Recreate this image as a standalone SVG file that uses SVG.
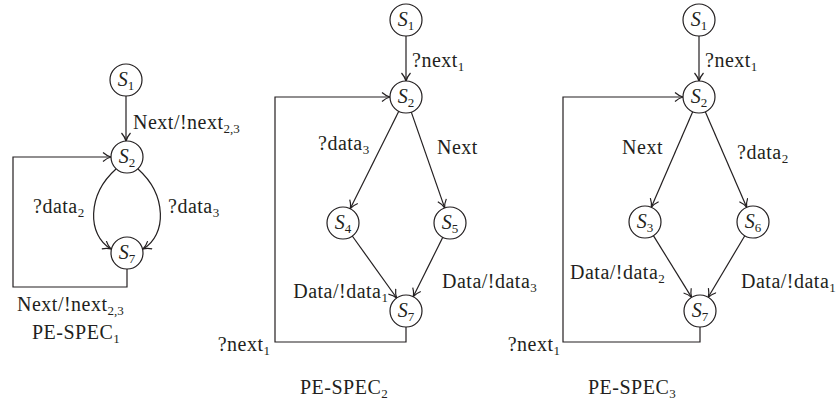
<svg xmlns="http://www.w3.org/2000/svg" width="836" height="408" viewBox="0 0 836 408">
<style>
text{font-family:"Liberation Serif","DejaVu Serif",serif;font-size:20px;letter-spacing:0.5px;fill:#231f20}
.n{font-style:italic;text-anchor:middle;letter-spacing:0}
.sub{font-size:13px;font-style:normal;letter-spacing:0}
circle{fill:#fff;stroke:#231f20;stroke-width:1.2}
.e{fill:none;stroke:#231f20;stroke-width:1.2;marker-end:url(#ah)}
.end{text-anchor:end}
</style>
<defs>
<marker id="ah" markerUnits="userSpaceOnUse" markerWidth="12" markerHeight="12" refX="9" refY="5" orient="auto">
<path d="M1,0.5 Q5,4 9,5 Q5,6 1,9.5" fill="none" stroke="#231f20" stroke-width="1.2"/>
</marker>
</defs>
<g id="connectors">
<path class="e" d="M126,96 V141"/>
<path class="e" d="M116,169 C87,195 87,235 111,249"/>
<path class="e" d="M138,169 C167,195 167,235 143,249"/>
<path class="e" d="M127,269 V287 H13 V157 H111"/>
<path class="e" d="M406,36 V81"/>
<path class="e" d="M398.8,111.3 L350.2,208.7"/>
<path class="e" d="M411.3,112.1 L444.7,207.9"/>
<path class="e" d="M352.3,236 L396.7,298"/>
<path class="e" d="M442.8,237.3 L413.2,296.7"/>
<path class="e" d="M406,327 V342 H275 V97 H390"/>
<path class="e" d="M699,36 V81"/>
<path class="e" d="M692.7,111.7 L651.3,207.3"/>
<path class="e" d="M705.3,111.7 L746.7,207.3"/>
<path class="e" d="M653.4,235.6 L691.6,297.4"/>
<path class="e" d="M744.8,235.7 L708.2,297.3"/>
<path class="e" d="M700,327 V342 H563 V97 H683"/>
</g>
<g id="labels">
<text x="133" y="129">Next/!next<tspan class="sub" dy="4">2,3</tspan></text>
<text x="33" y="213">?data<tspan class="sub" dy="4">2</tspan></text>
<text x="168" y="213">?data<tspan class="sub" dy="4">3</tspan></text>
<text x="17" y="311">Next/!next<tspan class="sub" dy="4">2,3</tspan></text>
<text x="32" y="339">PE-SPEC<tspan class="sub" dy="4">1</tspan></text>
<text x="412" y="67">?next<tspan class="sub" dy="4">1</tspan></text>
<text x="318" y="150">?data<tspan class="sub" dy="4">3</tspan></text>
<text x="437" y="154">Next</text>
<text x="388" y="298" class="end">Data/!data<tspan class="sub" dy="4">1</tspan></text>
<text x="442" y="288">Data/!data<tspan class="sub" dy="4">3</tspan></text>
<text x="270" y="351" class="end">?next<tspan class="sub" dy="4">1</tspan></text>
<text x="300" y="394">PE-SPEC<tspan class="sub" dy="4">2</tspan></text>
<text x="705" y="67">?next<tspan class="sub" dy="4">1</tspan></text>
<text x="663" y="154" class="end">Next</text>
<text x="737" y="159">?data<tspan class="sub" dy="4">2</tspan></text>
<text x="570" y="279">Data/!data<tspan class="sub" dy="4">2</tspan></text>
<text x="741" y="288">Data/!data<tspan class="sub" dy="4">1</tspan></text>
<text x="560" y="351" class="end">?next<tspan class="sub" dy="4">1</tspan></text>
<text x="588" y="394">PE-SPEC<tspan class="sub" dy="4">3</tspan></text>
</g>
<g id="s1a"><circle cx="126" cy="80" r="16"/><text class="n" x="126" y="86">S<tspan class="sub" dy="4">1</tspan></text></g>
<g id="s2a"><circle cx="127" cy="157" r="16"/><text class="n" x="127" y="163">S<tspan class="sub" dy="4">2</tspan></text></g>
<g id="s7a"><circle cx="127" cy="253" r="16"/><text class="n" x="127" y="259">S<tspan class="sub" dy="4">7</tspan></text></g>
<g id="s1b"><circle cx="406" cy="20" r="16"/><text class="n" x="406" y="26">S<tspan class="sub" dy="4">1</tspan></text></g>
<g id="s2b"><circle cx="406" cy="97" r="16"/><text class="n" x="406" y="103">S<tspan class="sub" dy="4">2</tspan></text></g>
<g id="s4b"><circle cx="343" cy="223" r="16"/><text class="n" x="343" y="229">S<tspan class="sub" dy="4">4</tspan></text></g>
<g id="s5b"><circle cx="450" cy="223" r="16"/><text class="n" x="450" y="229">S<tspan class="sub" dy="4">5</tspan></text></g>
<g id="s7b"><circle cx="406" cy="311" r="16"/><text class="n" x="406" y="317">S<tspan class="sub" dy="4">7</tspan></text></g>
<g id="s1c"><circle cx="699" cy="20" r="16"/><text class="n" x="699" y="26">S<tspan class="sub" dy="4">1</tspan></text></g>
<g id="s2c"><circle cx="699" cy="97" r="16"/><text class="n" x="699" y="103">S<tspan class="sub" dy="4">2</tspan></text></g>
<g id="s3c"><circle cx="645" cy="222" r="16"/><text class="n" x="645" y="228">S<tspan class="sub" dy="4">3</tspan></text></g>
<g id="s6c"><circle cx="753" cy="222" r="16"/><text class="n" x="753" y="228">S<tspan class="sub" dy="4">6</tspan></text></g>
<g id="s7c"><circle cx="700" cy="311" r="16"/><text class="n" x="700" y="317">S<tspan class="sub" dy="4">7</tspan></text></g>
</svg>
